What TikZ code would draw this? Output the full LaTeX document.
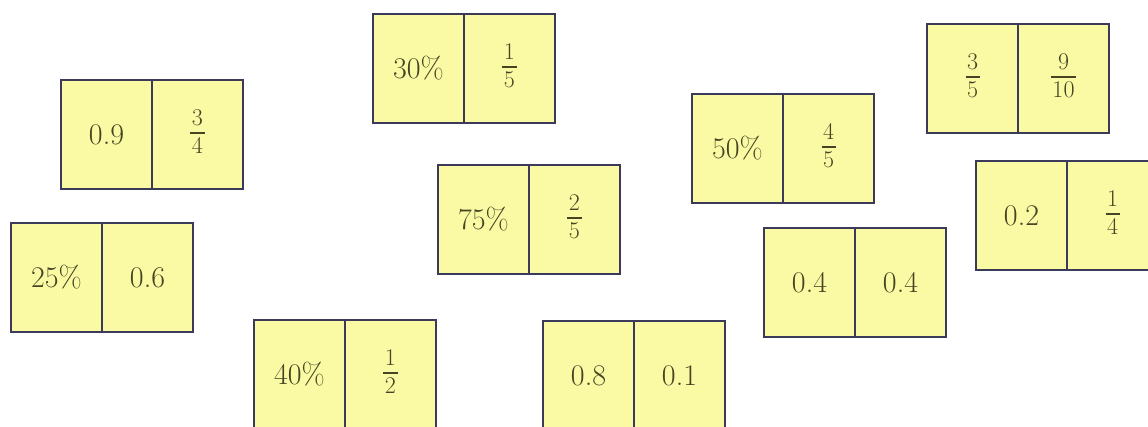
\documentclass[tikz,border=0pt]{standalone}
\usepackage{fontspec}
\definecolor{tilefill}{RGB}{250,250,165}
\definecolor{tileline}{RGB}{60,58,90}
\definecolor{tiletext}{RGB}{70,68,35}
\tikzset{
  cell/.style={draw=tileline, fill=tilefill, line width=2pt, minimum width=91pt,
    minimum height=109pt, inner sep=0pt, anchor=north west, text=tiletext,
    font=\fontsize{30}{34}\selectfont},
  frac/.style={font=\fontsize{24}{24}\selectfont, align=center},
}
\newcommand{\fr}[2]{\setlength{\arrayrulewidth}{1.2pt}%
  \renewcommand{\arraystretch}{1}\setlength{\tabcolsep}{1.5pt}%
  \begin{tabular}{c}\rule[-3pt]{0pt}{17pt}#1\\\hline\rule{0pt}{20pt}#2\end{tabular}}
\newcommand{\domino}[7]{%
  \node[cell,#6] (#1a) at (#2,#3) {#4};
  \node[cell,#7] (#1b) at (#2+91,#3) {#5};
}
\begin{document}
\begin{tikzpicture}[x=1pt,y=-1pt]
\clip (0,0) rectangle (1148,426);
\fill[white] (0,0) rectangle (1148,426);
\domino{d1}{60}{79}{0.9}{\fr{3}{4}}{}{frac}
\domino{d2}{10}{222}{25\%}{0.6}{}{}
\domino{d3}{253}{319}{40\%}{\fr{1}{2}}{}{frac}
\domino{d4}{542}{320}{0.8}{0.1}{}{}
\domino{d5}{372}{13}{30\%}{\fr{1}{5}}{}{frac}
\domino{d6}{437}{164}{75\%}{\fr{2}{5}}{}{frac}
\domino{d7}{691}{93}{50\%}{\fr{4}{5}}{}{frac}
\domino{d8}{763}{227}{0.4}{0.4}{}{}
\domino{d9}{926}{23}{\fr{3}{5}}{\fr{9}{10}}{frac}{frac}
\domino{d10}{975}{160}{0.2}{\fr{1}{4}}{}{frac}
\end{tikzpicture}
\end{document}
